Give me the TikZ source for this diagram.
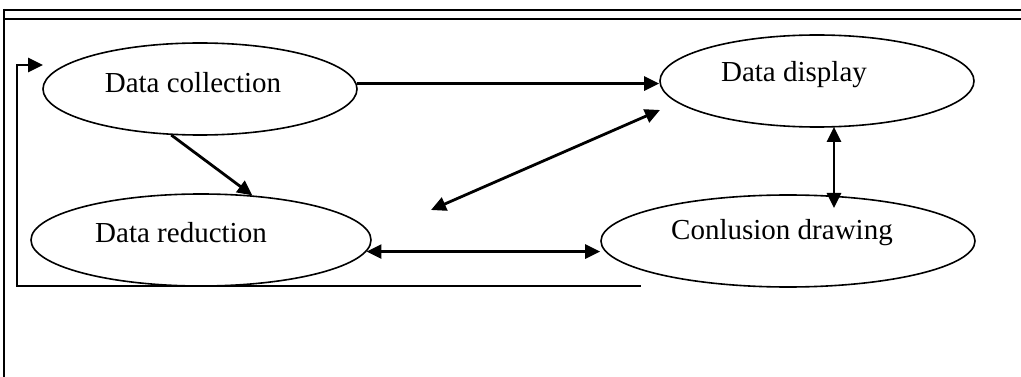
\documentclass[tikz,border=0pt]{standalone}
\usepackage{fontspec}
\setmainfont{Liberation Serif}
\usetikzlibrary{arrows.meta,shapes.geometric}
\begin{document}
\begin{tikzpicture}[x=1pt,y=-1pt,
  ell/.style={draw,ellipse,line width=1.6pt,inner sep=0pt},
  lbl/.style={font=\fontsize{29}{32}\selectfont},
  arr/.style={line width=2.8pt,-{Triangle[length=15pt,width=14pt]}},
  both/.style={line width=2.8pt,{Triangle[length=15pt,width=14pt]}-{Triangle[length=15pt,width=14pt]}},
  frame/.style={line width=2.6pt}]
\useasboundingbox (0,0) rectangle (1021,377);
% frame
\draw[frame] (3,10) -- (1021,10);
\draw[frame] (3,19) -- (1021,19);
\draw[frame] (4,9) -- (4,377);
% nodes
\node[ell,minimum width=314pt,minimum height=92pt,label={[lbl,xshift=-7pt,yshift=6pt]center:Data collection}] (dc) at (200,89) {};
\node[ell,minimum width=314pt,minimum height=92pt,label={[lbl,xshift=-23pt,yshift=6pt]center:Data display}] (dd) at (817,81) {};
\node[ell,minimum width=340pt,minimum height=92pt,label={[lbl,xshift=-20pt,yshift=7pt]center:Data reduction}] (dr) at (201,240) {};
\node[ell,minimum width=374pt,minimum height=92pt,label={[lbl,xshift=-6pt,yshift=8pt]center:Conlusion drawing}] (cd) at (788,241) {};
% free ends
\coordinate (v1) at (834,127);
\coordinate (v2) at (834,208);
\coordinate (g1) at (431,210);
\coordinate (g2) at (660,110);
\coordinate (fb0) at (640,286);
\coordinate (fb1) at (17,286);
\coordinate (fb2) at (17,65);
\coordinate (fb3) at (43,65);
% connectors
\draw[arr] (dc.2) -- (dc.2 -| dd.west);
\draw[arr] (dc.-122) -- (dr.41);
\draw[both] (g1) -- (g2);
\draw[both] (v1) -- (v2);
\draw[both] (dr.-4) -- (dr.-4 -| cd.west);
\draw[arr,line cap=rect] (fb0) -- (fb1) -- (fb2) -- (fb3);
\end{tikzpicture}
\end{document}
